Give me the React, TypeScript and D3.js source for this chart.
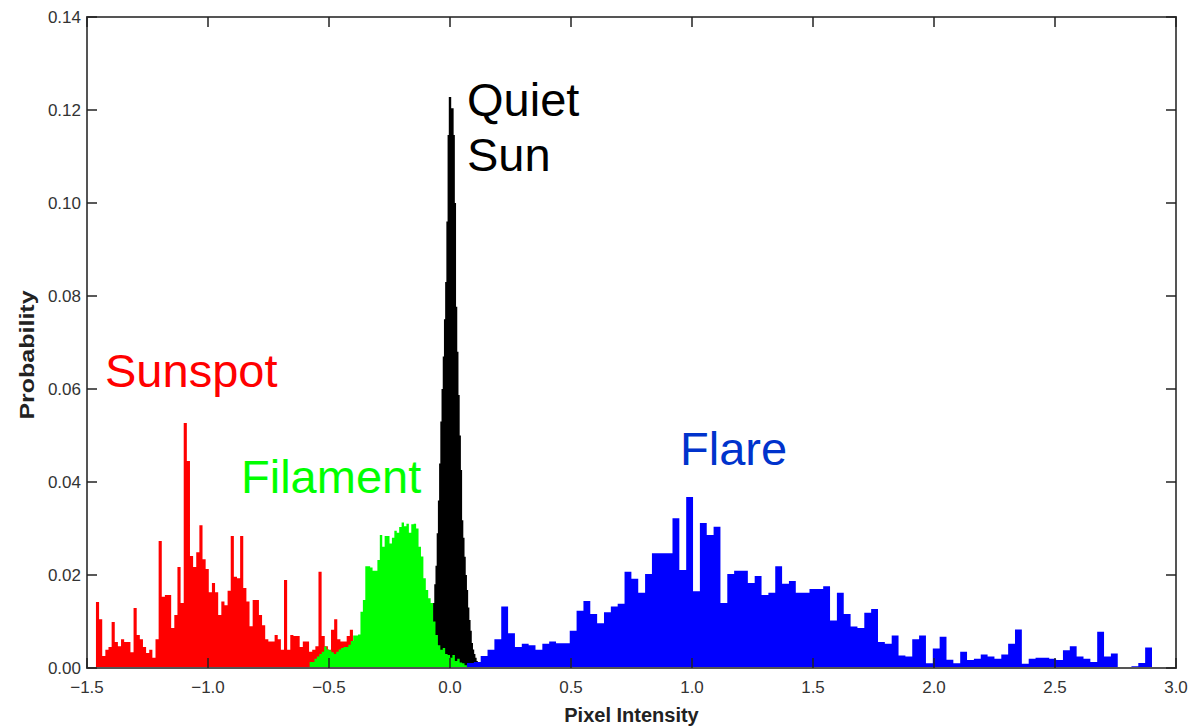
// App.tsx
import React from 'react';
import * as d3 from 'd3';

const width = 1193;
const height = 727;
const marginLeft = 87;
const marginRight = 17;
const marginTop = 17;
const marginBottom = 59;

// histogram values (probability per bin)
const sunspotRange = [-1.463, -0.401];
const sunspotValues = [
  0.0142, 0.0105, 0.0026, 0.0039, 0.0045, 0.0099, 0.0056, 0.0047, 0.0062, 0.0056,
  0.0056, 0.0034, 0.0129, 0.0071, 0.0062, 0.0045, 0.0032, 0.0039, 0.0022, 0.0062,
  0.0273, 0.0153, 0.0157, 0.0157, 0.0086, 0.0114, 0.0217, 0.014, 0.0527, 0.0445,
  0.0241, 0.0217, 0.0249, 0.0307, 0.0234, 0.0213, 0.0163, 0.0183, 0.0163, 0.0114,
  0.0143, 0.0135, 0.0166, 0.0284, 0.0196, 0.0193, 0.0284, 0.0172, 0.0143, 0.009,
  0.0146, 0.0146, 0.0114, 0.0092, 0.0062, 0.0057, 0.0057, 0.0071, 0.0062, 0.0039,
  0.0189, 0.0039, 0.0071, 0.0069, 0.0069, 0.0045, 0.0057, 0.0057, 0.0035, 0.0039,
  0.0047, 0.0207, 0.0069, 0.0047, 0.0039, 0.0082, 0.0105, 0.0062, 0.0057, 0.0057,
  0.0069, 0.0082,
];

const filamentRange = [-0.58, 0.07];
const filamentValues = [
  0.0013, 0.0013, 0.002, 0.0025, 0.003, 0.0035, 0.0046, 0.004, 0.0038, 0.0034,
  0.003, 0.0035, 0.004, 0.0043, 0.0045, 0.0045, 0.005, 0.0058, 0.007, 0.007,
  0.0072, 0.0121, 0.0146, 0.0219, 0.0219, 0.0216, 0.0209, 0.0209, 0.0232, 0.0286,
  0.0261, 0.0284, 0.0284, 0.0268, 0.028, 0.0295, 0.0291, 0.0303, 0.0313, 0.0305,
  0.031, 0.0291, 0.0309, 0.031, 0.03, 0.0261, 0.024, 0.0193, 0.0168, 0.015,
  0.014, 0.01, 0.0071, 0.0049, 0.0039, 0.0043, 0.003, 0.0028, 0.0022, 0.0028,
  0.0015, 0.002, 0.0012, 0.001, 0.0006,
];

const quietRange = [-0.085, 0.12];
const quietValues = [
  0.004, 0.007, 0.01, 0.014, 0.018, 0.022, 0.029, 0.036, 0.044, 0.053,
  0.06, 0.067, 0.075, 0.083, 0.096, 0.1146, 0.1228, 0.1228, 0.1204, 0.1204,
  0.1146, 0.1, 0.0777, 0.068, 0.0587, 0.05, 0.0426, 0.0318, 0.028, 0.0239,
  0.02, 0.0168, 0.013, 0.0103, 0.008, 0.0054, 0.004, 0.003, 0.0022, 0.0015,
  0.001,
];

const flareRange = [0.0702, 2.9008];
const flareValues = [
  0.0011, 0.0013, 0.0026, 0.0039, 0.0062, 0.0132, 0.0075, 0.0045, 0.0052, 0.0049,
  0.0039, 0.0052, 0.0057, 0.0053, 0.0053, 0.008, 0.0123, 0.0144, 0.0116, 0.0096,
  0.012, 0.0132, 0.0138, 0.0207, 0.0192, 0.0162, 0.0202, 0.0247, 0.0247, 0.0247,
  0.0322, 0.0211, 0.0368, 0.0165, 0.0312, 0.0286, 0.0304, 0.014, 0.0202, 0.0209,
  0.0209, 0.0183, 0.0198, 0.0157, 0.0162, 0.0219, 0.0181, 0.0187, 0.0162, 0.0162,
  0.017, 0.017, 0.0176, 0.0102, 0.0162, 0.0116, 0.0089, 0.0086, 0.0119, 0.0127,
  0.0056, 0.0052, 0.007, 0.0027, 0.0025, 0.0062, 0.007, 0.001, 0.0042, 0.0067,
  0.0018, 0.001, 0.0035, 0.0017, 0.002, 0.0029, 0.0025, 0.002, 0.0029, 0.0052,
  0.0083, 0.0009, 0.002, 0.0022, 0.0022, 0.002, 0.0017, 0.0038, 0.0047, 0.0025,
  0.002, 0.0013, 0.0078, 0.0025, 0.0031, 0.0002, 0.0002, 0.0004, 0.0011, 0.0044,
];

const xTicks = [-1.5, -1.0, -0.5, 0.0, 0.5, 1.0, 1.5, 2.0, 2.5, 3.0];
const yTicks = [0, 0.02, 0.04, 0.06, 0.08, 0.1, 0.12, 0.14];

const x = d3.scaleLinear().domain([-1.5, 3.0]).range([marginLeft, width - marginRight]);
const y = d3.scaleLinear().domain([0, 0.14]).range([height - marginBottom, marginTop]);

const stepPath = (range: number[], values: number[]) => {
  const w = (range[1] - range[0]) / values.length;
  const pts: [number, number][] = [];
  values.forEach((v, i) => {
    pts.push([range[0] + i * w, v]);
    pts.push([range[0] + (i + 1) * w, v]);
  });
  const area = d3
    .area<[number, number]>()
    .x((d) => x(d[0]))
    .y0(y(0))
    .y1((d) => y(d[1]));
  return area(pts) || '';
};

const font = '"Liberation Sans", Arial, Helvetica, sans-serif';

const App = () => {
  const x0 = x.range()[0];
  const x1 = x.range()[1];
  const y0 = y.range()[0];
  const y1 = y.range()[1];
  const tick = 10;

  return (
    <svg width={width} height={height} style={{ position: 'absolute', left: 0, top: 0 }}>
      <rect width={width} height={height} fill="white" />

      <path d={stepPath(sunspotRange, sunspotValues)} fill="#ff0000" />
      <path d={stepPath(quietRange, quietValues)} fill="#000000" />
      <path d={stepPath(flareRange, flareValues)} fill="#0000ff" />
      <path d={stepPath(filamentRange, filamentValues)} fill="#00ff00" />

      {/* frame */}
      <rect x={x0} y={y1} width={x1 - x0} height={y0 - y1} fill="none" stroke="#555" strokeWidth={2} />

      {xTicks.map((t) => (
        <g key={'x' + t}>
          <line x1={x(t)} x2={x(t)} y1={y0} y2={y0 - tick} stroke="#222" strokeWidth={1.5} />
          <line x1={x(t)} x2={x(t)} y1={y1} y2={y1 + tick} stroke="#222" strokeWidth={1.5} />
          <text x={x(t)} y={y0 + 25} textAnchor="middle" fontFamily={font} fontSize={17} fill="#333">
            {d3.format('.1f')(t)}
          </text>
        </g>
      ))}

      {yTicks.map((t) => (
        <g key={'y' + t}>
          <line x1={x0} x2={x0 + tick} y1={y(t)} y2={y(t)} stroke="#222" strokeWidth={1.5} />
          <line x1={x1} x2={x1 - tick} y1={y(t)} y2={y(t)} stroke="#222" strokeWidth={1.5} />
          <text x={x0 - 6} y={y(t) + 6} textAnchor="end" fontFamily={font} fontSize={17} fill="#333">
            {d3.format('.2f')(t)}
          </text>
        </g>
      ))}

      <text x={(x0 + x1) / 2} y={722} textAnchor="middle" fontFamily={font} fontSize={20} fontWeight="bold" fill="#222">
        Pixel Intensity
      </text>
      <text
        transform={`translate(34, 355) scale(1, 1.25) rotate(-90)`}
        textAnchor="middle"
        fontFamily={font}
        fontSize={20}
        fontWeight="bold"
        fill="#222"
      >
        Probability
      </text>

      <text x={467} y={116} fontFamily={font} fontSize={47} fill="#000">Quiet</text>
      <text x={467} y={171} fontFamily={font} fontSize={47} fill="#000">Sun</text>
      <text x={105} y={387} fontFamily={font} fontSize={47} fill="#ff0000">Sunspot</text>
      <text x={241} y={493} fontFamily={font} fontSize={47} fill="#00ff00">Filament</text>
      <text x={680} y={465} fontFamily={font} fontSize={47} fill="#0033cc">Flare</text>
    </svg>
  );
};

export default App;
